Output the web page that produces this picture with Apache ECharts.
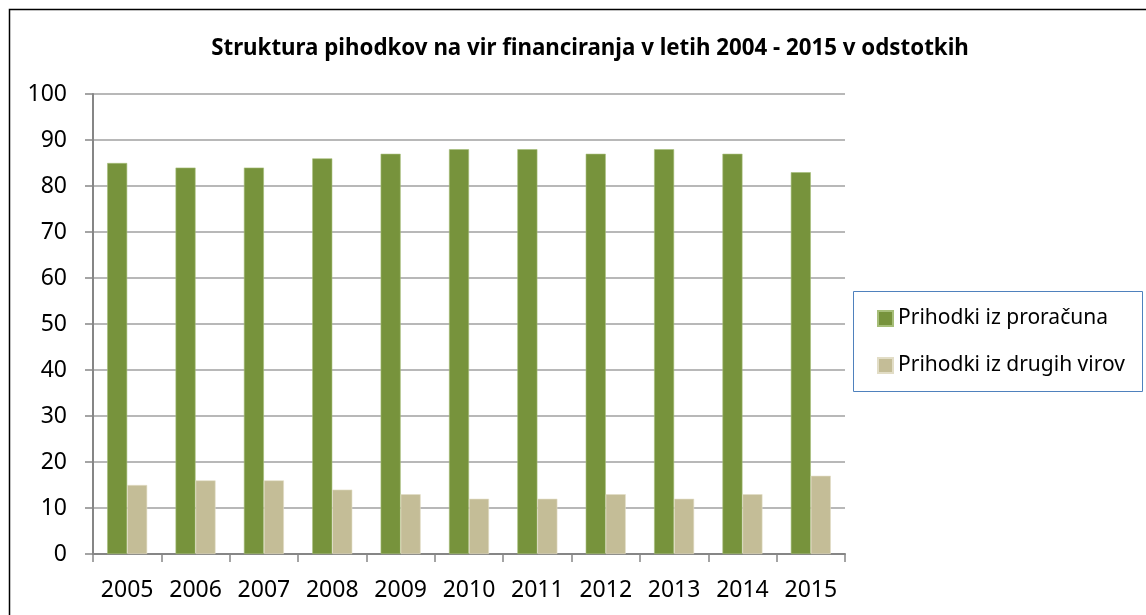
<!DOCTYPE html>
<html>
<head>
<meta charset="utf-8">
<script src="https://cdn.jsdelivr.net/npm/echarts@6/dist/echarts.min.js"></script>
<style>
  html, body { margin: 0; padding: 0; background: #fff; }
  #chart { width: 1146px; height: 615px; }
</style>
</head>
<body>
<div id="chart"></div>
<script>
var years = ['2005', '2006', '2007', '2008', '2009', '2010', '2011', '2012', '2013', '2014', '2015'];
var proracun = [85, 84, 84, 86, 87, 88, 88, 87, 88, 87, 83];
var drugiViri = [15, 16, 16, 14, 13, 12, 12, 13, 12, 13, 17];
var seriesNames = ['Prihodki iz proračuna', 'Prihodki iz drugih virov'];

var font = 'Noto Sans, Liberation Sans, sans-serif';
var chart = echarts.init(document.getElementById('chart'));

chart.setOption({
  animation: false,
  title: {
    text: 'Struktura pihodkov na vir financiranja v letih 2004 - 2015 v odstotkih',
    left: 585,
    textAlign: 'center',
    top: 33,
    textStyle: { fontFamily: font, fontSize: 22.3, fontWeight: 'bold', color: '#000' }
  },
  graphic: [
    { // okvir grafa
      type: 'rect',
      shape: { x: 9.5, y: 9.5, width: 1146, height: 620 },
      style: { fill: null, stroke: '#000', lineWidth: 1.5 }
    },
    { // okvir legende
      type: 'rect',
      shape: { x: 853.5, y: 291.5, width: 289, height: 100 },
      style: { fill: '#fff', stroke: '#4f81bd', lineWidth: 1 }
    }
  ],
  legend: {
    orient: 'vertical',
    left: 872,
    top: 303,
    itemGap: 26,
    itemWidth: 15,
    itemHeight: 15,
    icon: 'rect',
    textStyle: { fontFamily: font, fontSize: 21, color: '#000', padding: [0, 0, 0, 0] },
    data: seriesNames
  },
  grid: { left: 93, right: 301, top: 94, bottom: 61, containLabel: false },
  xAxis: {
    type: 'category',
    data: years,
    axisLine: { lineStyle: { color: '#868686', width: 2 } },
    axisTick: { show: true, length: 8, lineStyle: { color: '#868686', width: 1.5 } },
    axisLabel: { fontFamily: font, fontSize: 23, color: '#000', margin: 25, interval: 0, hideOverlap: false }
  },
  yAxis: {
    type: 'value',
    min: 0,
    max: 100,
    interval: 10,
    axisLine: { show: true, lineStyle: { color: '#868686', width: 2 } },
    axisTick: { show: true, length: 8, lineStyle: { color: '#868686', width: 1.5 } },
    axisLabel: { fontFamily: font, fontSize: 23, color: '#000', margin: 26 },
    splitLine: { lineStyle: { color: '#a0a0a0', width: 1.5 } }
  },
  series: [
    {
      name: seriesNames[0],
      type: 'bar',
      data: proracun,
      barWidth: 20,
      barGap: '0%',
      itemStyle: { color: '#77933c', borderColor: '#a6be78', borderWidth: 0.6 }
    },
    {
      name: seriesNames[1],
      type: 'bar',
      data: drugiViri,
      barWidth: 20,
      barGap: '0%',
      itemStyle: { color: '#c4bd97', borderColor: '#e2ddc6', borderWidth: 0.6 }
    }
  ]
});
</script>
</body>
</html>
